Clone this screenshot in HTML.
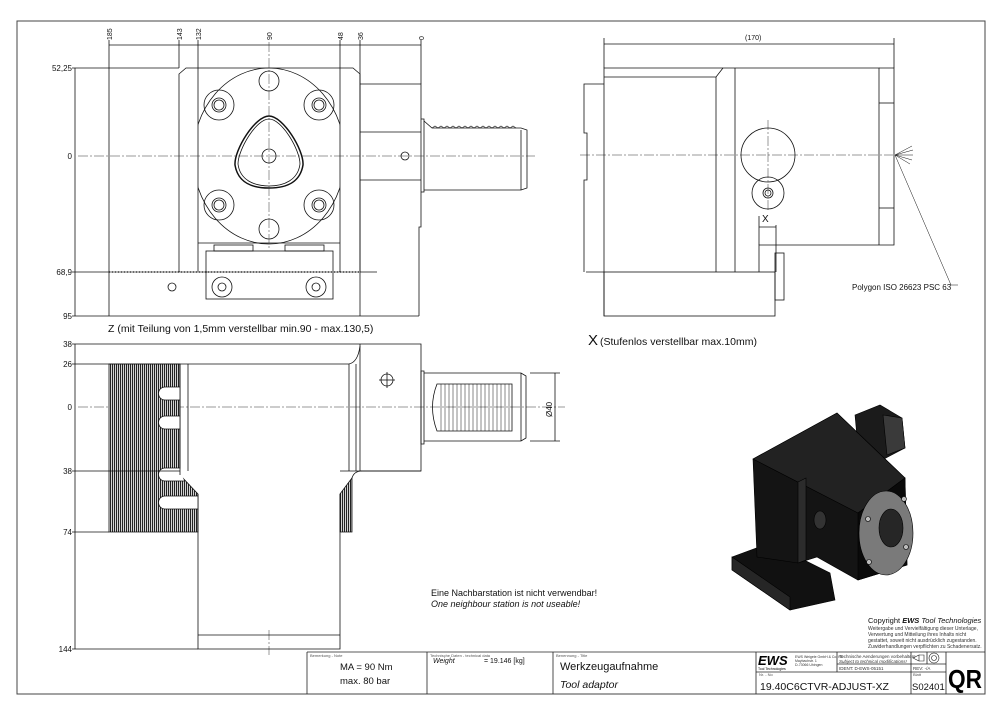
<!DOCTYPE html>
<html><head><meta charset="utf-8"><style>
html,body{margin:0;padding:0;background:#fff;}
svg{display:block;font-family:"Liberation Sans",sans-serif;}
</style></head><body>
<svg width="1000" height="715" viewBox="0 0 1000 715" xmlns="http://www.w3.org/2000/svg">
<defs>
<pattern id="h" width="2" height="4" patternUnits="userSpaceOnUse"><rect width="2" height="4" fill="#fff"/><rect width="1.2" height="4" fill="#222"/></pattern>
<clipPath id="fc"><rect x="198" y="60" width="142" height="200"/></clipPath>
</defs>
<rect x="17" y="21" width="968" height="673" fill="none" stroke="#444" stroke-width="1"/>
<g stroke="#111" stroke-width="0.8" fill="none">
<line x1="109" y1="45" x2="421" y2="45"/>
<line x1="109" y1="40" x2="109" y2="316"/>
<line x1="179" y1="40" x2="179" y2="68"/>
<line x1="198" y1="40" x2="198" y2="68"/>
<line x1="340" y1="40" x2="340" y2="68"/>
<line x1="360" y1="40" x2="360" y2="84"/>
<line x1="421" y1="40" x2="421" y2="84"/>
<line x1="75" y1="68" x2="75" y2="316"/>
<line x1="72" y1="68" x2="179" y2="68"/>
<line x1="72" y1="272" x2="109" y2="272"/>
<line x1="72" y1="316" x2="109" y2="316"/>
<path d="M179 272 V74 L186 68 H353 L360 74 V272"/>
<line x1="198" y1="68" x2="198" y2="272"/>
<line x1="340" y1="68" x2="340" y2="272"/>
<ellipse cx="269" cy="156" rx="76" ry="88" clip-path="url(#fc)"/>
<line x1="198" y1="243" x2="340" y2="243"/>
<g>
<circle cx="219" cy="105" r="15"/><circle cx="219" cy="105" r="7"/><circle cx="219" cy="105" r="5"/>
<circle cx="319" cy="105" r="15"/><circle cx="319" cy="105" r="7"/><circle cx="319" cy="105" r="5"/>
<circle cx="219" cy="205" r="15"/><circle cx="219" cy="205" r="7"/><circle cx="219" cy="205" r="5"/>
<circle cx="319" cy="205" r="15"/><circle cx="319" cy="205" r="7"/><circle cx="319" cy="205" r="5"/>
<circle cx="269" cy="81" r="10"/><circle cx="269" cy="229" r="10"/>
<circle cx="269" cy="156" r="7"/>
<path d="M269 116 C283 116 304 150 303 165 C300 183 286 188 269 188 C252 188 238 183 235 165 C234 150 255 116 269 116Z" stroke-width="1.5"/>
<path d="M269 119 C282 119 300 150 300 164 C298 180 284 186 269 186 C254 186 240 180 238 164 C238 150 256 119 269 119Z"/>
</g>
<path d="M360 84 H421 V227 H419 V316"/>
<line x1="360" y1="132" x2="421" y2="132"/><line x1="360" y1="180" x2="421" y2="180"/>
<line x1="360" y1="84" x2="360" y2="316"/>
<circle cx="405" cy="156" r="4"/>
<path d="M421 119 H424 V192 H421"/>
<path d="M424 121 L432 128 H521 L527 130 V188 L521 190 H424"/>
<path d="M432 128 l3-2 3 2 3-2 3 2 3-2 3 2 3-2 3 2 3-2 3 2 3-2 3 2 3-2 3 2 3-2 3 2 3-2 3 2 3-2 3 2 3-2 3 2 3-2 3 2 3-2 3 2 3-2 3 2" stroke-width="0.6"/>
<line x1="521" y1="130" x2="521" y2="190"/>
<line x1="109" y1="272" x2="360" y2="272" stroke-dasharray="1 0.5" stroke-width="1.3"/>
<line x1="360" y1="272" x2="377" y2="272"/>
<line x1="109" y1="316" x2="419" y2="316"/>
<rect x="206" y="251" width="127" height="48"/>
<rect x="214" y="245" width="39" height="6"/><rect x="285" y="245" width="39" height="6"/>
<circle cx="222" cy="287" r="10"/><circle cx="222" cy="287" r="4"/>
<circle cx="316" cy="287" r="10"/><circle cx="316" cy="287" r="4"/>
<circle cx="172" cy="287" r="4"/>
</g>
<g stroke="#333" stroke-width="0.5" stroke-dasharray="10 2 2 2" fill="none">
<line x1="78" y1="156" x2="535" y2="156"/>
<line x1="269" y1="42" x2="269" y2="250"/>
<line x1="580" y1="155" x2="893" y2="155"/>
<line x1="768" y1="120" x2="768" y2="210"/>
<line x1="78" y1="407" x2="565" y2="407"/>
<line x1="269" y1="630" x2="269" y2="655"/>
</g>
<g font-size="7" fill="#111">
<text transform="translate(112,40) rotate(-90)">185</text>
<text transform="translate(182,40) rotate(-90)">143</text>
<text transform="translate(201,40) rotate(-90)">132</text>
<text transform="translate(272,40) rotate(-90)">90</text>
<text transform="translate(343,40) rotate(-90)">48</text>
<text transform="translate(363,40) rotate(-90)">36</text>
<text transform="translate(424,40) rotate(-90)">0</text>
</g>
<g font-size="8" fill="#111" text-anchor="end">
<text x="72" y="71">52,25</text><text x="72" y="159">0</text><text x="72" y="275">68,9</text><text x="72" y="319">95</text>
<text x="72" y="347">38</text><text x="72" y="367">26</text><text x="72" y="410">0</text><text x="72" y="474">38</text><text x="72" y="535">74</text><text x="72" y="652">144</text>
</g>
<text x="108" y="332" font-size="10.5" fill="#111">Z (mit Teilung von 1,5mm verstellbar min.90 - max.130,5)</text>

<g stroke="#111" stroke-width="0.8" fill="none">
<line x1="604" y1="44" x2="894" y2="44"/>
<line x1="604" y1="38" x2="604" y2="68"/><line x1="894" y1="38" x2="894" y2="68"/>
<path d="M604 316 V68 H879 V245"/>
<path d="M604 77 H716 L723 68"/>
<line x1="716" y1="77" x2="716" y2="272"/><line x1="735" y1="68" x2="735" y2="272"/>
<path d="M879 68 H894 V245 H879"/>
<line x1="879" y1="103" x2="894" y2="103"/><line x1="879" y1="208" x2="894" y2="208"/>
<path d="M604 84 H584 V133 H587 V180 H584 V272"/>
<line x1="586" y1="272" x2="604" y2="272"/>
<path d="M759 272 V245 H879"/>
<line x1="776" y1="225" x2="776" y2="272"/><line x1="759" y1="216" x2="759" y2="245"/>
<line x1="759" y1="227" x2="776" y2="227"/>
<rect x="604" y="272" width="171" height="44"/>
<rect x="775" y="253" width="9" height="47"/>
<circle cx="768" cy="155" r="27"/>
<circle cx="768" cy="193" r="16"/><circle cx="768" cy="193" r="5"/><circle cx="768" cy="193" r="3"/>
<path d="M895 155 L912 146 M895 155 L913 150 M895 155 L913 155 M895 155 L912 160 M895 155 L910 164" stroke-width="0.5"/>
<path d="M895 155 L951 285 H958" stroke-width="0.5"/>
</g>
<text x="762" y="222" font-size="10" fill="#111">X</text>
<text x="745" y="40" font-size="7" fill="#111">(170)</text>
<text x="852" y="290" font-size="8" fill="#111">Polygon ISO 26623 PSC 63</text>
<text x="588" y="345" font-size="15" fill="#111">X</text>
<text x="600" y="345" font-size="10.5" fill="#111">(Stufenlos verstellbar max.10mm)</text>

<path d="M109 364 H180 V475 L198 494 V532 H109Z" fill="url(#h)" stroke="#111" stroke-width="0.8"/>
<path d="M340 494 L352 478 V532 H340Z" fill="url(#h)" stroke="#111" stroke-width="0.8"/>
<g fill="#fff" stroke="#111" stroke-width="0.8">
<path d="M180 387 H165 A6.5 6.5 0 0 0 165 400 H180"/>
<path d="M180 416 H165 A6.5 6.5 0 0 0 165 429 H180"/>
<path d="M180 468 H165 A6.5 6.5 0 0 0 165 481 H184"/>
<path d="M198 496 H165 A6.5 6.5 0 0 0 165 509 H198"/>
</g>
<g stroke="#111" stroke-width="0.8" fill="none">
<line x1="75" y1="344" x2="75" y2="649"/>
<path d="M72 344 H421 V471 H360"/>
<line x1="360" y1="344" x2="360" y2="471"/>
<path d="M72 364 H349 Q358 362 360 346"/>
<path d="M349 364 V471 M356 364 V471 M188 364 V471 M180 364 V475"/>
<path d="M72 471 H180 M340 471 H421"/>
<path d="M352 478 Q354 471 362 471"/>
<line x1="72" y1="532" x2="109" y2="532"/>
<path d="M198 494 V649 H340 V494"/>
<line x1="198" y1="635" x2="340" y2="635"/>
<line x1="72" y1="649" x2="198" y2="649"/>
<circle cx="387" cy="380" r="6"/><line x1="379" y1="380" x2="395" y2="380"/><line x1="387" y1="372" x2="387" y2="388"/>
<path d="M421 371 H424 V444 H421Z"/>
<path d="M424 373 H521 L526 376 V438 L521 441 H424"/>
<line x1="521" y1="373" x2="521" y2="441"/>
<path d="M437 384 H512 V431 H437 Q428 407 437 384Z"/>
<path d="M441 384V431M445 384V431M449 384V431M453 384V431M457 384V431M461 384V431M465 384V431M469 384V431M473 384V431M477 384V431M481 384V431M485 384V431M489 384V431M493 384V431M497 384V431M501 384V431M505 384V431M509 384V431" stroke-width="0.5"/>
<line x1="530" y1="373" x2="560" y2="373"/><line x1="530" y1="441" x2="560" y2="441"/>
<line x1="555" y1="373" x2="555" y2="441"/>
</g>
<text transform="translate(552,417) rotate(-90)" font-size="8" fill="#111">Ø40</text>
<text x="431" y="596" font-size="9" fill="#111">Eine Nachbarstation ist nicht verwendbar!</text>
<text x="431" y="607" font-size="9" font-style="italic" fill="#111">One neighbour station is not useable!</text>

<!-- 3D -->
<g stroke="#000" stroke-width="0.6">
<path d="M732 557 L770 543 L830 573 L835 600 L790 610 L732 570Z" fill="#111"/>
<path d="M732 557 L732 570 L790 610 L790 597Z" fill="#262626"/>
<path d="M855 415 L880 405 L902 418 L905 448 L882 460 L858 448Z" fill="#1b1b1b"/>
<path d="M883 415 L902 418 L905 448 L887 455Z" fill="#3a3a3a"/>
<path d="M753 459 L837 413 L905 478 L907 565 L858 580 L817 557 L798 563 L757 557Z" fill="#141414"/>
<path d="M753 459 L837 413 L905 478 L858 513Z" fill="#222"/>
<path d="M858 513 L905 478 L907 565 L858 580Z" fill="#0a0a0a"/>
<path d="M798 482 L806 478 L806 560 L798 563Z" fill="#2c2c2c"/>
<ellipse cx="886" cy="533" rx="27" ry="42" fill="#7a7a7a"/>
<ellipse cx="891" cy="528" rx="12" ry="19" fill="#262626"/>
<circle cx="868" cy="519" r="2.5" fill="#bbb"/><circle cx="904" cy="499" r="2.5" fill="#bbb"/>
<circle cx="869" cy="562" r="2.5" fill="#bbb"/><circle cx="906" cy="547" r="2.5" fill="#bbb"/>
<ellipse cx="820" cy="520" rx="6" ry="9" fill="#333"/>
</g>
<text x="868" y="623" font-size="7.5" fill="#111">Copyright <tspan font-weight="bold" font-style="italic">EWS</tspan> <tspan font-style="italic">Tool Technologies</tspan></text>
<g font-size="5" fill="#333">
<text x="868" y="630">Weitergabe und Vervielfältigung dieser Unterlage,</text>
<text x="868" y="636">Verwertung und Mitteilung ihres Inhalts nicht</text>
<text x="868" y="642">gestattet, soweit nicht ausdrücklich zugestanden.</text>
<text x="868" y="648">Zuwiderhandlungen verpflichten zu Schadenersatz.</text>
</g>

<g stroke="#222" stroke-width="0.8" fill="none">
<line x1="307" y1="652" x2="985" y2="652"/>
<line x1="307" y1="652" x2="307" y2="694"/>
<line x1="427" y1="652" x2="427" y2="694"/>
<line x1="553" y1="652" x2="553" y2="694"/>
<line x1="756" y1="652" x2="756" y2="694"/>
<line x1="837" y1="652" x2="837" y2="672"/>
<line x1="911" y1="652" x2="911" y2="694"/>
<line x1="946" y1="652" x2="946" y2="694"/>
<line x1="756" y1="672" x2="946" y2="672"/>
<line x1="837" y1="664" x2="946" y2="664"/>
<line x1="927" y1="652" x2="927" y2="664"/>
</g>
<g font-size="4" fill="#555"><text x="310" y="657">Bemerkung - Note</text><text x="430" y="657">Technische Daten - technical data</text><text x="556" y="657">Benennung - Title</text><text x="759" y="676">Nr. - No</text><text x="913" y="676">Blatt</text></g>
<text x="340" y="670" font-size="9.5" fill="#111">MA = 90 Nm</text>
<text x="340" y="684" font-size="9.5" fill="#111">max. 80 bar</text>
<text x="433" y="663" font-size="7" font-style="italic" fill="#111">Weight</text>
<text x="484" y="663" font-size="7" fill="#111">= 19.146 [kg]</text>
<text x="560" y="670" font-size="11" fill="#111">Werkzeugaufnahme</text>
<text x="560" y="688" font-size="10.5" font-style="italic" fill="#111">Tool adaptor</text>
<text x="758" y="665" font-size="13" font-weight="bold" font-style="italic" fill="#000">EWS</text>
<text x="758" y="670" font-size="3.5" fill="#000">Tool Technologies</text>
<g font-size="3.5" fill="#333"><text x="795" y="658">EWS Weigele GmbH &amp; Co. KG</text><text x="795" y="662">Maybachstr. 1</text><text x="795" y="666">D-73066 Uhingen</text></g>
<g font-size="4.5" fill="#333"><text x="839" y="658">Technische Aenderungen vorbehalten!</text><text x="839" y="663" font-style="italic">Subject to technical modifications!</text><text x="839" y="670">IDENT:  D-EWS-05151</text><text x="913" y="670">REV:  -/A</text></g>
<path d="M913 658 L919 655 V661Z M919 655 H924 V661 H919" fill="none" stroke="#222" stroke-width="0.6"/>
<circle cx="934" cy="658" r="5" fill="none" stroke="#222" stroke-width="0.6"/><circle cx="934" cy="658" r="2.5" fill="none" stroke="#222" stroke-width="0.6"/>
<text x="760" y="690" font-size="10.5" fill="#111">19.40C6CTVR-ADJUST-XZ</text>
<text x="912" y="690" font-size="9.5" fill="#111">S02401</text>
<text x="948" y="688" font-size="26" font-weight="bold" fill="#000" textLength="34" lengthAdjust="spacingAndGlyphs">QR</text>
</svg>
</body></html>
